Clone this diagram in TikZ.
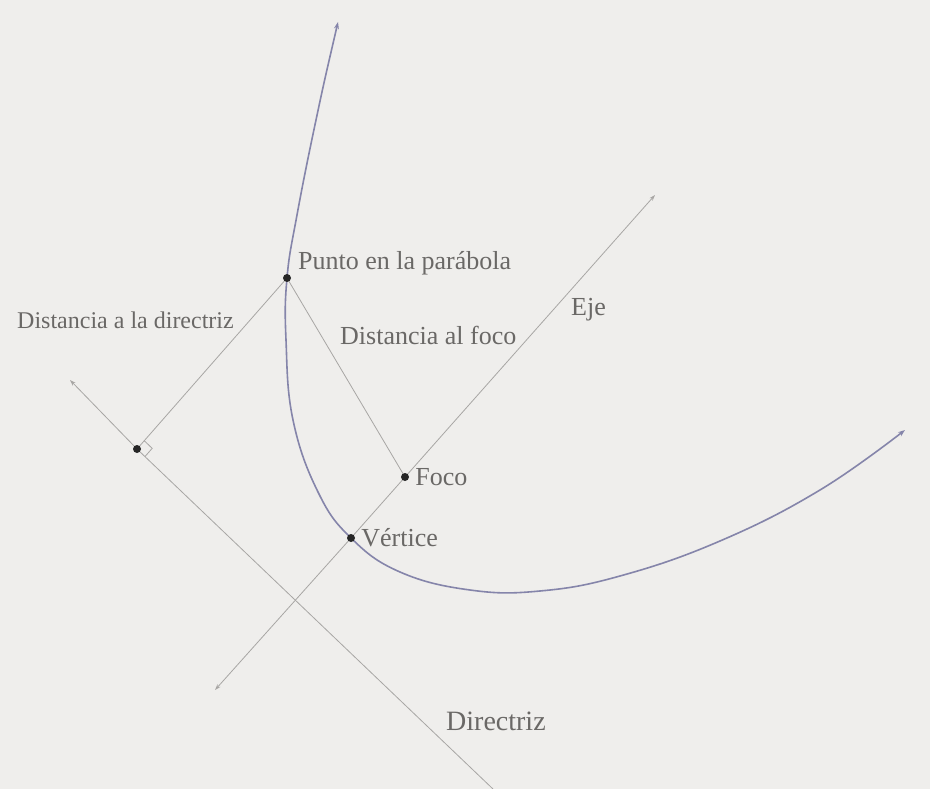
\documentclass[tikz,border=0pt]{standalone}
\usepackage{fontspec}
\setmainfont{Liberation Serif}
\usepackage{xcolor}
\usepackage{tikz}
\usetikzlibrary{arrows.meta,positioning,calc}

\definecolor{papel}{HTML}{EFEEEC}
\definecolor{curva}{HTML}{8585AA}
\definecolor{guia}{HTML}{A8A6A4}
\definecolor{rotulo}{HTML}{6A6866}

\begin{document}
\begin{tikzpicture}[
  x=1pt, y=-1pt,
  guideline/.style={draw=guia, line width=0.8pt},
  guidearrow/.style={guideline, -{Stealth[length=6pt,width=4pt]}},
  dot/.style={circle, fill=black!85, inner sep=0pt, minimum size=8pt},
  lbl/.style={text=rotulo, font=\fontsize{26}{30}\selectfont, inner sep=1pt},
  parab/.style={draw=curva, line width=1.6pt, {Stealth[length=7pt,width=5pt]}-{Stealth[length=7pt,width=5pt]}}
]
\fill[papel] (0,0) rectangle (930,789);
\useasboundingbox (0,0) rectangle (930,789);

% points of the figure
\coordinate (V) at (351,538);
\coordinate (F) at (405,477);
\coordinate (P) at (287,278);
\coordinate (Q) at (137,449);
\coordinate (ejeA) at (215,690);
\coordinate (ejeB) at (655,195);
\coordinate (dirA) at (70,380);
\coordinate (dirB) at (493,789);

% axis and directrix
\draw[guidearrow] (V) -- (ejeA);
\draw[guidearrow] (V) -- (ejeB);
\draw[guidearrow] (Q) -- (dirA);
\draw[guideline] (Q) -- (dirB);

% distances
\draw[guideline] (P) -- (Q);
\draw[guideline] (P) -- (F);
\draw[guideline] ($(Q)!11pt!(P)$) -- ($($(Q)!11pt!(P)$)+($(Q)!11pt!(dirB)$)-(Q)$) -- ($(Q)!11pt!(dirB)$);

% parabola
\draw[parab] plot[smooth, tension=0.7] coordinates {
  (338,22) (316,120) (297,215) (287,278) (286,340) (293,420) (318,492)
  (351,538) (400,572) (470,590) (540,591) (620,576) (720,541) (820,490) (905,430)};

% dots
\node[dot] (vertice) at (V) {};
\node[dot] (foco) at (F) {};
\node[dot] (punto) at (P) {};
\node[dot] (pie) at (Q) {};

% labels
\node[lbl, right=5pt of foco] (tfoco) {Foco};
\node[lbl, right=5pt of vertice] (tvertice) {Vértice};
\node[lbl, anchor=south west] (tpunto) at (297,276) {Punto en la parábola};
\node[lbl, anchor=west, font=\fontsize{24}{28}\selectfont] (tdirectriz) at (16,320) {Distancia a la directriz};
\node[lbl, anchor=west] (tfocodist) at (339,335) {Distancia al foco};
\node[lbl, anchor=west] (teje) at (570,310) {Eje};
\node[lbl, anchor=west, font=\fontsize{28}{32}\selectfont] (tdir) at (445,721) {Directriz};
\end{tikzpicture}
\end{document}
